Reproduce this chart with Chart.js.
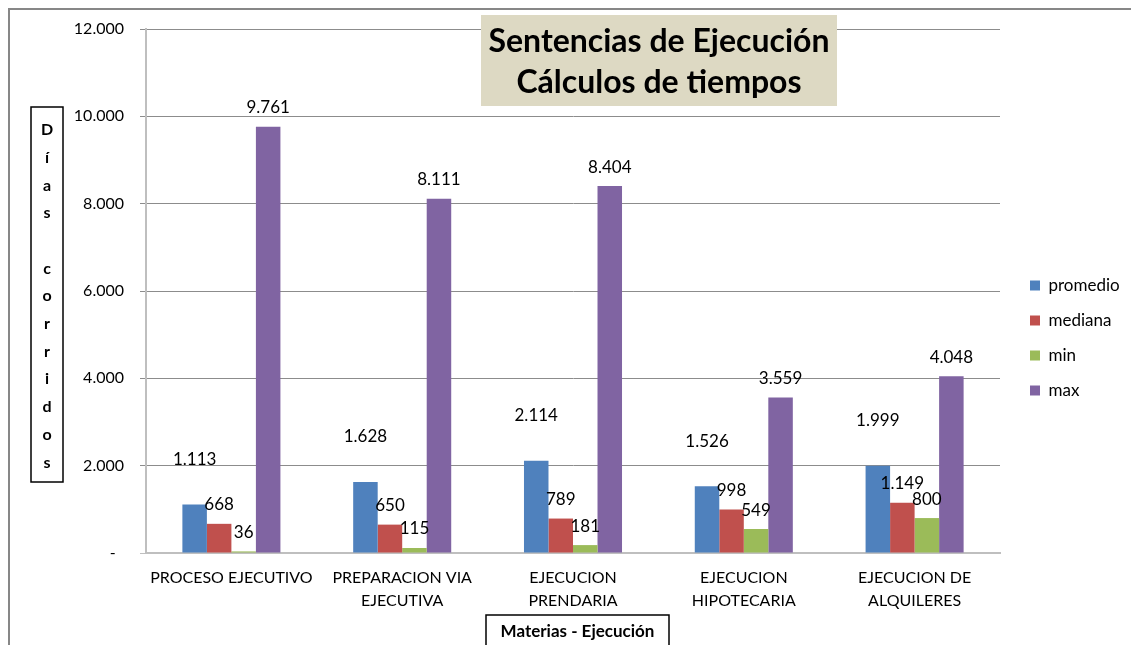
<!DOCTYPE html>
<html>
<head>
<meta charset="utf-8">
<script src="https://cdn.jsdelivr.net/npm/chart.js@4/dist/chart.umd.min.js"></script>
<style>
    html, body { margin: 0; padding: 0; background: #fff; }
    #wrap { position: relative; width: 1131px; height: 645px; }
</style>
</head>
<body>
<div id="wrap"><canvas id="chart" width="1131" height="645"></canvas></div>
<script>
// --- Data ---
const categories = [
    ['PROCESO EJECUTIVO'],
    ['PREPARACION VIA', 'EJECUTIVA'],
    ['EJECUCION', 'PRENDARIA'],
    ['EJECUCION', 'HIPOTECARIA'],
    ['EJECUCION DE', 'ALQUILERES']
];
const seriesNames = ['promedio', 'mediana', 'min', 'max'];
const promedio = [1113, 1628, 2114, 1526, 1999];
const mediana = [668, 650, 789, 998, 1149];
const minimo = [36, 115, 181, 549, 800];
const maximo = [9761, 8111, 8404, 3559, 4048];
const yTicks = [0, 2000, 4000, 6000, 8000, 10000, 12000];

const titleLines = ['Sentencias de Ejecución', 'Cálculos de tiempos'];
const yTitle = 'Días corridos';
const xTitle = 'Materias - Ejecución';

const colors = ['#4F81BD', '#C0504D', '#9BBB59', '#8064A2'];
const FONT = 'Lato, "Open Sans", sans-serif';

const fmt = v => v === 0 ? '-  ' : v.toLocaleString('de-DE');

// values printed above each bar
const barLabels = {
    id: 'barLabels',
    afterDatasetsDraw(chart) {
        const ctx = chart.ctx;
        ctx.save();
        ctx.font = '17px ' + FONT;
        ctx.fillStyle = '#000';
        ctx.textAlign = 'center';
        ctx.textBaseline = 'middle';
        chart.data.datasets.forEach((ds, i) => {
            const lift = i === 0 ? 45 : 19;
            chart.getDatasetMeta(i).data.forEach((bar, j) => {
                ctx.fillText(fmt(ds.data[j]), bar.x, bar.y - lift);
            });
        });
        ctx.restore();
    }
};

// legend sits a bit right and lower than Chart.js would put it
const moveLegend = {
    id: 'moveLegend',
    afterLayout(chart) {
        const lg = chart.legend;
        lg.left = 1012; lg.right = 1131; lg.width = 119;
        const h = lg.bottom - lg.top;
        lg.top = 259; lg.bottom = 259 + h;
    }
};

// frame, title box and boxed axis titles
const decor = {
    id: 'decor',
    afterDraw(chart) {
        const ctx = chart.ctx;
        ctx.save();

        ctx.strokeStyle = '#878787';
        ctx.lineWidth = 2;
        ctx.beginPath();
        ctx.moveTo(9, 645);
        ctx.lineTo(9, 9);
        ctx.lineTo(1131, 9);
        ctx.stroke();

        // main title
        ctx.fillStyle = '#DDD9C3';
        ctx.fillRect(481, 15, 356, 91);
        ctx.fillStyle = '#000';
        ctx.font = 'bold 32px ' + FONT;
        ctx.textAlign = 'center';
        ctx.textBaseline = 'middle';
        ctx.fillText(titleLines[0], 659, 42);
        ctx.fillText(titleLines[1], 659, 83);

        // y title, one letter per line
        ctx.strokeStyle = '#000';
        ctx.lineWidth = 1.5;
        ctx.strokeRect(31, 107, 32, 375);
        ctx.font = 'bold 16px ' + FONT;
        [...yTitle].forEach((ch, i) => {
            if (ch !== ' ') ctx.fillText(ch, 47, 130 + i * 27.7);
        });

        // x title
        ctx.strokeRect(486, 615, 183, 36);
        ctx.font = 'bold 17px ' + FONT;
        ctx.fillText(xTitle, 577.5, 632);

        ctx.restore();
    }
};

const ctx = document.getElementById('chart').getContext('2d');
new Chart(ctx, {
    type: 'bar',
    data: {
        labels: categories,
        datasets: [promedio, mediana, minimo, maximo].map((d, i) => ({
            label: seriesNames[i],
            data: d,
            backgroundColor: colors[i],
            borderWidth: 0,
            barPercentage: 1,
            categoryPercentage: 0.574
        }))
    },
    options: {
        responsive: false,
        animation: false,
        layout: { padding: { left: 66, top: 29, right: 41, bottom: 32 } },
        plugins: {
            title: { display: false },
            tooltip: { enabled: false },
            legend: {
                position: 'right',
                align: 'start',
                maxWidth: 90,
                labels: {
                    boxWidth: 10,
                    boxHeight: 10,
                    padding: 18,
                    color: '#000',
                    font: { family: FONT, size: 17 }
                }
            }
        },
        scales: {
            x: {
                grid: { display: false, drawTicks: false },
                border: { color: '#BFBFBF', width: 2 },
                ticks: {
                    color: '#000',
                    padding: 13,
                    maxRotation: 0,
                    font: { family: FONT, size: 16, lineHeight: 1.45 }
                },
                afterFit: s => { s.height = 60; }
            },
            y: {
                min: 0,
                max: 12000,
                afterBuildTicks: s => { s.ticks = yTicks.map(v => ({ value: v })); },
                grid: {
                    color: c => c.tick && c.tick.value === 0 ? '#BFBFBF' : '#8C8C8C',
                    tickLength: 6
                },
                border: { color: '#BFBFBF', width: 2 },
                ticks: {
                    color: '#000',
                    padding: 16,
                    font: { family: FONT, size: 16 },
                    callback: v => fmt(v)
                },
                afterFit: s => { s.width = 80; }
            }
        }
    },
    plugins: [barLabels, moveLegend, decor]
});
</script>
</body>
</html>
